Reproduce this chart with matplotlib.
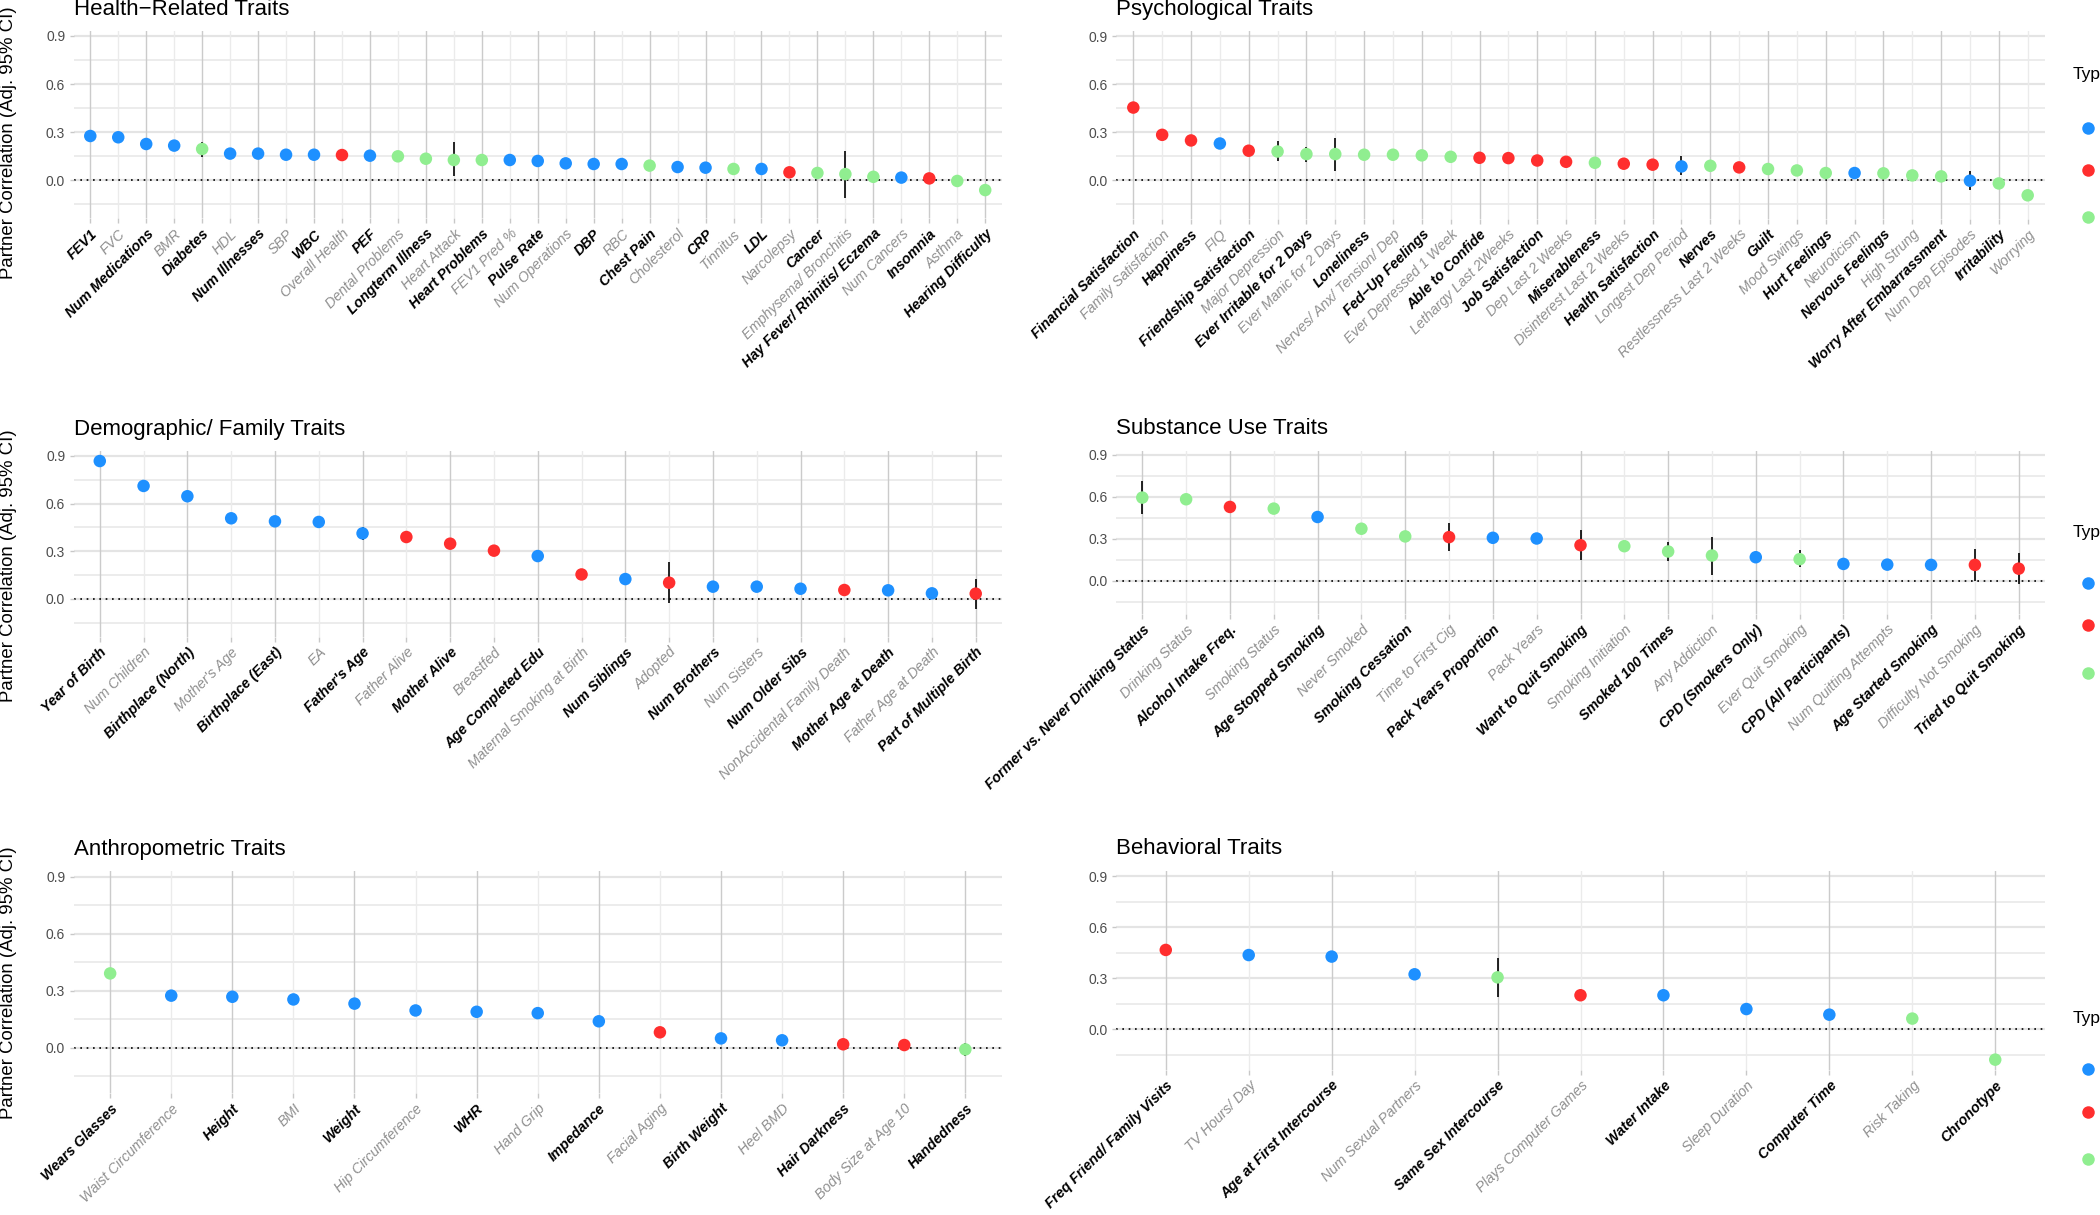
import numpy as np
import matplotlib
matplotlib.use("Agg")
import matplotlib.pyplot as plt
from matplotlib.lines import Line2D

plt.rcParams['font.family'] = ['Liberation Sans', 'DejaVu Sans']

NaN = float('nan')

# ---------------- data ----------------
health_labels = ["FEV1", "FVC", "Num Medications", "BMR", "Diabetes", "HDL", "Num Illnesses", "SBP", "WBC",
                 "Overall Health", "PEF", "Dental Problems", "Longterm Illness", "Heart Attack", "Heart Problems",
                 "FEV1 Pred %", "Pulse Rate", "Num Operations", "DBP", "RBC", "Chest Pain", "Cholesterol", "CRP",
                 "Tinnitus", "LDL", "Narcolepsy", "Cancer", "Emphysema/ Bronchitis", "Hay Fever/ Rhinitis/ Eczema",
                 "Num Cancers", "Insomnia", "Asthma", "Hearing Difficulty"]
health_vals = [0.275, 0.267, 0.225, 0.215, 0.194, 0.165, 0.165, 0.158, 0.158, 0.156, 0.152, 0.148, 0.133, 0.125,
               0.125, 0.125, 0.119, 0.104, 0.100, 0.100, 0.090, 0.081, 0.077, 0.069, 0.069, 0.048, 0.044, 0.037,
               0.020, 0.015, 0.010, -0.006, -0.063]
health_lo = [NaN, NaN, NaN, NaN, 0.146, NaN, NaN, NaN, NaN, NaN, NaN, NaN, NaN, 0.025, NaN, NaN, NaN, NaN, NaN,
             NaN, NaN, NaN, NaN, NaN, NaN, NaN, 0.010, -0.115, NaN, NaN, NaN, NaN, NaN]
health_hi = [NaN, NaN, NaN, NaN, 0.240, NaN, NaN, NaN, NaN, NaN, NaN, NaN, NaN, 0.235, NaN, NaN, NaN, NaN, NaN,
             NaN, NaN, NaN, NaN, NaN, NaN, NaN, 0.083, 0.183, NaN, NaN, NaN, NaN, NaN]
health_type = ["C", "C", "C", "C", "B", "C", "C", "C", "C", "O", "C", "B", "B", "B", "B", "C", "C", "C", "C", "C",
               "B", "C", "C", "B", "C", "O", "B", "B", "B", "C", "O", "B", "B"]

psych_labels = ["Financial Satisfaction", "Family Satisfaction", "Happiness", "FIQ", "Friendship Satisfaction",
                "Major Depression", "Ever Irritable for 2 Days", "Ever Manic for 2 Days", "Loneliness",
                "Nerves/ Anx/ Tension/ Dep", "Fed\u2212Up Feelings", "Ever Depressed 1 Week", "Able to Confide",
                "Lethargy Last 2Weeks", "Job Satisfaction", "Dep Last 2 Weeks", "Miserableness",
                "Disinterest Last 2 Weeks", "Health Satisfaction", "Longest Dep Period", "Nerves",
                "Restlessness Last 2 Weeks", "Guilt", "Mood Swings", "Hurt Feelings", "Neuroticism",
                "Nervous Feelings", "High Strung", "Worry After Embarrassment", "Num Dep Episodes", "Irritability",
                "Worrying"]
psych_vals = [0.454, 0.284, 0.249, 0.230, 0.185, 0.180, 0.164, 0.164, 0.160, 0.160, 0.156, 0.147, 0.141, 0.139,
              0.124, 0.116, 0.110, 0.104, 0.098, 0.087, 0.091, 0.081, 0.071, 0.062, 0.046, 0.046, 0.044, 0.031,
              0.025, -0.002, -0.019, -0.093]
psych_lo = [NaN, NaN, NaN, NaN, NaN, 0.118, 0.112, 0.056, NaN, NaN, NaN, NaN, NaN, NaN, NaN, NaN, NaN, NaN, NaN,
            0.035, NaN, NaN, NaN, NaN, NaN, NaN, NaN, NaN, NaN, -0.062, NaN, NaN]
psych_hi = [NaN, NaN, NaN, NaN, NaN, 0.243, 0.210, 0.263, NaN, NaN, NaN, NaN, NaN, NaN, NaN, NaN, NaN, NaN, NaN,
            0.149, NaN, NaN, NaN, NaN, NaN, NaN, NaN, NaN, NaN, 0.056, NaN, NaN]
psych_type = ["O", "O", "O", "C", "O", "B", "B", "B", "B", "B", "B", "B", "O", "O", "O", "O", "B", "O", "O", "C",
              "B", "O", "B", "B", "B", "C", "B", "B", "B", "C", "B", "B"]

demo_labels = ["Year of Birth", "Num Children", "Birthplace (North)", "Mother's Age", "Birthplace (East)", "EA",
               "Father's Age", "Father Alive", "Mother Alive", "Breastfed", "Age Completed Edu",
               "Maternal Smoking at Birth", "Num Siblings", "Adopted", "Num Brothers", "Num Sisters",
               "Num Older Sibs", "NonAccidental Family Death", "Mother Age at Death", "Father Age at Death",
               "Part of Multiple Birth"]
demo_vals = [0.868, 0.711, 0.646, 0.507, 0.488, 0.484, 0.412, 0.389, 0.347, 0.303, 0.269, 0.153, 0.124, 0.101,
             0.076, 0.076, 0.063, 0.055, 0.053, 0.034, 0.032]
demo_lo = [NaN, NaN, NaN, NaN, NaN, NaN, 0.372, NaN, NaN, NaN, NaN, NaN, NaN, -0.029, NaN, NaN, NaN, NaN, NaN,
           NaN, -0.067]
demo_hi = [NaN, NaN, NaN, NaN, NaN, NaN, 0.452, NaN, NaN, NaN, NaN, NaN, NaN, 0.233, NaN, NaN, NaN, NaN, NaN,
           NaN, 0.124]
demo_type = ["C", "C", "C", "C", "C", "C", "C", "O", "O", "O", "C", "O", "C", "O", "C", "C", "C", "O", "C", "C", "O"]

subst_labels = ["Former vs. Never Drinking Status", "Drinking Status", "Alcohol Intake Freq.", "Smoking Status",
                "Age Stopped Smoking", "Never Smoked", "Smoking Cessation", "Time to First Cig",
                "Pack Years Proportion", "Pack Years", "Want to Quit Smoking", "Smoking Initiation",
                "Smoked 100 Times", "Any Addiction", "CPD (Smokers Only)", "Ever Quit Smoking",
                "CPD (All Participants)", "Num Quitting Attempts", "Age Started Smoking", "Difficulty Not Smoking",
                "Tried to Quit Smoking"]
subst_vals = [0.595, 0.583, 0.528, 0.516, 0.456, 0.372, 0.317, 0.312, 0.307, 0.302, 0.254, 0.247, 0.209, 0.180,
              0.168, 0.154, 0.120, 0.115, 0.113, 0.113, 0.086]
subst_lo = [0.475, NaN, NaN, NaN, NaN, NaN, NaN, 0.211, NaN, NaN, 0.149, NaN, 0.144, 0.043, NaN, 0.096, NaN, NaN,
            NaN, 0.000, -0.024]
subst_hi = [0.715, NaN, NaN, NaN, NaN, NaN, NaN, 0.413, NaN, NaN, 0.360, NaN, 0.276, 0.312, NaN, 0.220, NaN, NaN,
            NaN, 0.228, 0.197]
subst_type = ["B", "B", "O", "B", "C", "B", "B", "O", "C", "C", "O", "B", "B", "B", "C", "B", "C", "C", "C", "O", "O"]

anthro_labels = ["Wears Glasses", "Waist Circumference", "Height", "BMI", "Weight", "Hip Circumference", "WHR",
                 "Hand Grip", "Impedance", "Facial Aging", "Birth Weight", "Heel BMD", "Hair Darkness",
                 "Body Size at Age 10", "Handedness"]
anthro_vals = [0.391, 0.274, 0.268, 0.254, 0.232, 0.196, 0.189, 0.182, 0.139, 0.081, 0.049, 0.039, 0.018, 0.014,
               -0.009]
anthro_lo = [NaN, NaN, NaN, NaN, NaN, NaN, NaN, NaN, NaN, NaN, NaN, NaN, NaN, NaN, -0.044]
anthro_hi = [NaN, NaN, NaN, NaN, NaN, NaN, NaN, NaN, NaN, NaN, NaN, NaN, NaN, NaN, 0.026]
anthro_type = ["B", "C", "C", "C", "C", "C", "C", "C", "C", "O", "C", "C", "O", "O", "B"]

behav_labels = ["Freq Friend/ Family Visits", "TV Hours/ Day", "Age at First Intercourse", "Num Sexual Partners",
                "Same Sex Intercourse", "Plays Computer Games", "Water Intake", "Sleep Duration", "Computer Time",
                "Risk Taking", "Chronotype"]
behav_vals = [0.466, 0.436, 0.427, 0.323, 0.305, 0.200, 0.200, 0.119, 0.086, 0.063, -0.178]
behav_lo = [NaN, NaN, NaN, NaN, 0.188, NaN, NaN, NaN, NaN, NaN, NaN]
behav_hi = [NaN, NaN, NaN, NaN, 0.421, NaN, NaN, NaN, NaN, NaN, NaN]
behav_type = ["O", "C", "C", "C", "B", "O", "C", "C", "C", "B", "B"]

type_colors = {"C": "#1E90FF", "O": "#FF2E2E", "B": "#90EE90"}
legend_types = ["C", "O", "B"]

# ---------------- layout (pixels) ----------------
W, H = 2100, 1215
fig = plt.figure(figsize=(W / 100, H / 100), dpi=100)
YLIM = (-0.24, 0.93)

panels = [
    ("Health\u2212Related Traits", health_labels, health_vals, health_lo, health_hi, health_type,
     (73.5, 1002, 31.2, 218.4), True),
    ("Psychological Traits", psych_labels, psych_vals, psych_lo, psych_hi, psych_type,
     (1116, 2045, 31.2, 218.9), False),
    ("Demographic/ Family Traits", demo_labels, demo_vals, demo_lo, demo_hi, demo_type,
     (73.5, 1002, 451.2, 636.8), True),
    ("Substance Use Traits", subst_labels, subst_vals, subst_lo, subst_hi, subst_type,
     (1116, 2045, 450.8, 614.2), False),
    ("Anthropometric Traits", anthro_labels, anthro_vals, anthro_lo, anthro_hi, anthro_type,
     (73.5, 1002, 871, 1093.3), True),
    ("Behavioral Traits", behav_labels, behav_vals, behav_lo, behav_hi, behav_type,
     (1116, 2045, 870.9, 1070.2), False),
]

ylabel_centers = [143, 566, 983]
legend_rows = [(75, [128, 170, 217]), (532, [583, 625, 673]), (1018, [1069, 1112, 1159])]

row = 0
for title, labels, vals, lo, hi, types, (x0, x1, y0, y1), left in panels:
    ax = fig.add_axes([x0 / W, 1 - y1 / H, (x1 - x0) / W, (y1 - y0) / H])
    n = len(labels)
    x = np.arange(n)
    ax.set_xlim(-0.6, n - 0.4)
    ax.set_ylim(*YLIM)
    for s in ax.spines.values():
        s.set_visible(False)
    # grid
    for yv in [-0.15, 0.15, 0.45, 0.75]:
        ax.axhline(yv, color="#ebebeb", lw=1.3, zorder=0)
    for yv in [0.0, 0.3, 0.6, 0.9]:
        ax.axhline(yv, color="#e4e4e4", lw=1.6, zorder=0)
    for i in range(n):
        ax.axvline(i, color="#cbcbcb" if i % 2 == 0 else "#ebebeb", lw=1.0, zorder=0)
    ax.axhline(0, color="black", lw=1.2, ls=(0, (1, 2.8)), zorder=1)
    # error bars
    lo_a = np.array(lo, dtype=float)
    hi_a = np.array(hi, dtype=float)
    m = ~np.isnan(lo_a)
    ax.vlines(x[m], lo_a[m], hi_a[m], color="black", lw=1.2, zorder=2)
    # points
    ax.scatter(x, vals, s=9.0 ** 2, c=[type_colors[t] for t in types], edgecolors="none", zorder=3)
    # ticks
    ax.set_yticks([0.0, 0.3, 0.6, 0.9])
    ax.set_yticklabels(["0.0", "0.3", "0.6", "0.9"], fontsize=10, color="#4d4d4d")
    ax.set_xticks(x)
    ax.set_xticklabels(labels, rotation=45, ha="right", rotation_mode="anchor", fontsize=10.3)
    ax.tick_params(axis="x", length=3.5, color="#c8c8c8", width=1.0, pad=2.5)
    ax.tick_params(axis="y", length=3, color="#c8c8c8", width=1.0, pad=3)
    for i, tl in enumerate(ax.get_xticklabels()):
        tl.set_style("italic")
        if i % 2 == 0:
            tl.set_color("black")
            tl.set_fontweight("bold")
        else:
            tl.set_color("#8f8f8f")
            tl.set_fontweight("normal")
    # title
    fig.text(x0 / W, 1 - (y0 - 22) / H, title, fontsize=16, ha="left", va="center", color="black")
    if left:
        fig.text(9 / W, 1 - ylabel_centers[row] / H, "Partner Correlation (Adj. 95% CI)", rotation=90,
                 fontsize=13.4, ha="center", va="center", color="black")
    else:
        ty, dots = legend_rows[row]
        fig.text(2073 / W, 1 - ty / H, "Type", fontsize=12.5, ha="left", va="center", color="black")
        for t, dy in zip(legend_types, dots):
            fig.add_artist(Line2D([2088 / W], [1 - dy / H], marker="o", ms=9.0, mec="none",
                                  mfc=type_colors[t], ls="none", transform=fig.transFigure))
        row += 1

fig.savefig("out.png", dpi=100, facecolor="white")
